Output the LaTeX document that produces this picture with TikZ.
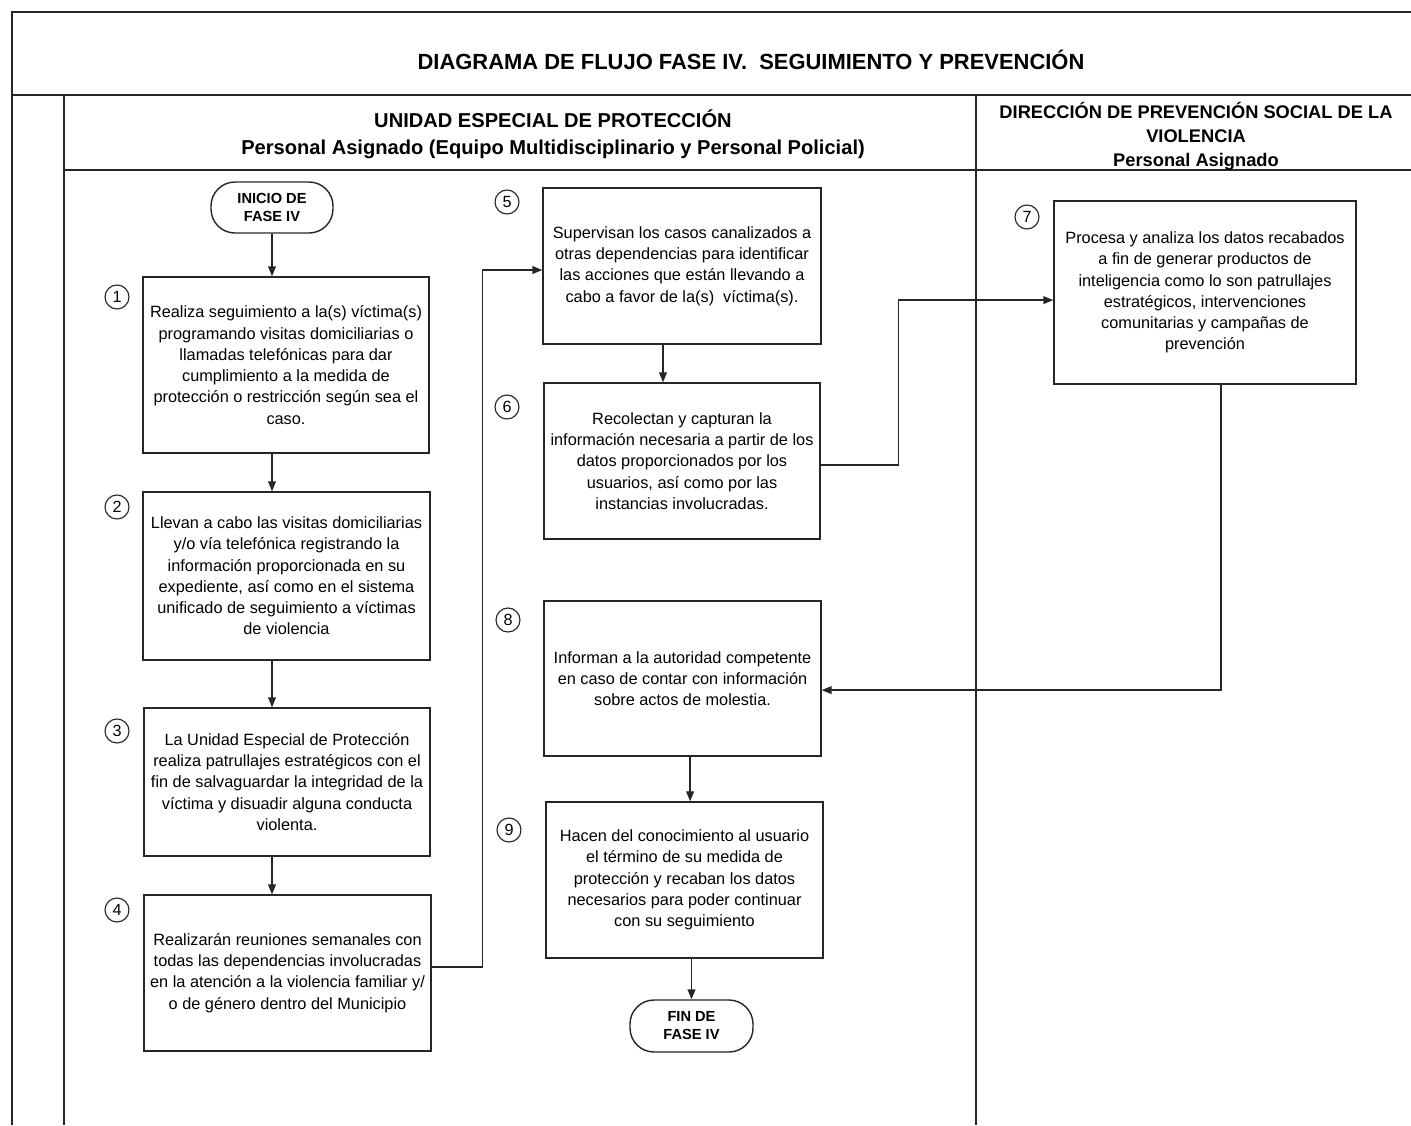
\documentclass[tikz,border=0pt]{standalone}
\usepackage{fontspec}
\setmainfont{Liberation Sans}
\usetikzlibrary{arrows.meta}
\begin{document}
\begin{tikzpicture}[x=0.025cm,y=-0.025cm,
  frame/.style={line width=1.1pt,draw=black!85},
  sz/.style 2 args={minimum width={#1*0.025cm},minimum height={#2*0.025cm}},
  box/.style={draw=black!85,line width=1pt,inner sep=0pt,align=center,
    font=\fontsize{11.6}{15.1}\selectfont},
  term/.style={draw=black!85,line width=1pt,inner sep=0pt,align=center,rounded corners=0.6cm,
    font=\bfseries\fontsize{10.4}{12.8}\selectfont},
  num/.style={circle,draw=black!85,line width=0.8pt,inner sep=0pt,minimum size=0.6cm,
    font=\fontsize{11.5}{12}\selectfont},
  arr/.style={draw=black!85,line width=0.9pt,-{Triangle[length=7pt,width=5.5pt]}},
  hdr/.style={align=center,font=\bfseries\fontsize{14.3}{19.2}\selectfont},
  hdrb/.style={align=center,font=\bfseries\fontsize{13}{17}\selectfont}]
\useasboundingbox (0,0) rectangle (1411,1125);
% frame
\draw[frame] (1411,12) -- (12,12) -- (12,1125);
\draw[frame] (12,95) -- (1411,95);
\draw[frame] (64,95) -- (64,1125);
\draw[frame] (64,170) -- (1411,170);
\draw[frame] (976,95) -- (976,1125);
% titles
\node[font=\bfseries\fontsize{15.6}{19}\selectfont] (title) at (751,60) {DIAGRAMA DE FLUJO FASE IV.\ \ SEGUIMIENTO Y PREVENCIÓN};
\node[hdr] (h1) at (553,134) {UNIDAD ESPECIAL DE PROTECCIÓN\\Personal Asignado (Equipo Multidisciplinario y Personal Policial)};
\node[hdrb] (h2) at (1196,136) {DIRECCIÓN DE PREVENCIÓN SOCIAL DE LA\\VIOLENCIA\\Personal Asignado};
% terminals
\node[term,sz={122}{51}] (start) at (272,207.5) {INICIO DE\\FASE IV};
\node[term,sz={123}{52}] (end) at (691.5,1026) {FIN DE\\FASE IV};
% boxes
\node[box,sz={286}{176}] (b1) at (286,365) {Realiza seguimiento a la(s) víctima(s)\\programando visitas domiciliarias o\\llamadas telefónicas para dar\\cumplimiento a la medida de\\protección o restricción según sea el\\caso.};
\node[box,sz={287}{168}] (b2) at (286.5,576) {Llevan a cabo las visitas domiciliarias\\y/o vía telefónica registrando la\\información proporcionada en su\\expediente, así como en el sistema\\unificado de seguimiento a víctimas\\de violencia};
\node[box,sz={286}{148}] (b3) at (287,782) {La Unidad Especial de Protección\\realiza patrullajes estratégicos con el\\fin de salvaguardar la integridad de la\\víctima y disuadir alguna conducta\\violenta.};
\node[box,sz={287}{156}] (b4) at (287.5,973) {Realizarán reuniones semanales con\\todas las dependencias involucradas\\en la atención a la violencia familiar y/\\o de género dentro del Municipio};
\node[box,sz={278}{156}] (b5) at (682,266) {Supervisan los casos canalizados a\\otras dependencias para identificar\\las acciones que están llevando a\\cabo a favor de la(s)\ \ víctima(s).};
\node[box,sz={276}{156}] (b6) at (682,461) {Recolectan y capturan la\\información necesaria a partir de los\\datos proporcionados por los\\usuarios, así como por las\\instancias involucradas.};
\node[box,sz={302}{183}] (b7) at (1205,292.5) {Procesa y analiza los datos recabados\\a fin de generar productos de\\inteligencia como lo son patrullajes\\estratégicos, intervenciones\\comunitarias y campañas de\\prevención};
\node[box,sz={277}{155}] (b8) at (682.5,678.5) {Informan a la autoridad competente\\en caso de contar con información\\sobre actos de molestia.};
\node[box,sz={277}{156}] (b9) at (684.5,880) {Hacen del conocimiento al usuario\\el término de su medida de\\protección y recaban los datos\\necesarios para poder continuar\\con su seguimiento};
% numbers
\node[num] (n1) at (117,297) {1};
\node[num] (n2) at (117,507) {2};
\node[num] (n3) at (117,731) {3};
\node[num] (n4) at (117,910) {4};
\node[num] (n5) at (507,202) {5};
\node[num] (n6) at (507,407) {6};
\node[num] (n7) at (1027,217) {7};
\node[num] (n8) at (508,620) {8};
\node[num] (n9) at (509,830) {9};
% connectors
\draw[arr] (start.south) -- (start.south |- b1.north);
\draw[arr] (b1.south -| start.south) -- (b2.north -| start.south);
\draw[arr] (b2.south -| start.south) -- (b3.north -| start.south);
\draw[arr] (b3.south -| start.south) -- (b4.north -| start.south);
\draw[arr] ([yshift=0.15cm]b4.east) -- ++(51,0) |- ([yshift=-0.1cm]b5.west);
\draw[arr] ([xshift=-0.475cm]b5.south) -- ([xshift=-0.475cm]b6.north);
\draw[arr] ([yshift=-0.1cm]b6.east) -- ++(78,0) |- ([yshift=-0.19cm]b7.west);
\draw[arr] ([xshift=0.4cm]b7.south) |- ([yshift=-0.29cm]b8.east);
\draw[arr] ([xshift=0.19cm]b8.south) -- ([xshift=0.19cm]b8.south |- b9.north);
\draw[arr] (end.north |- b9.south) -- (end.north);
\end{tikzpicture}
\end{document}
